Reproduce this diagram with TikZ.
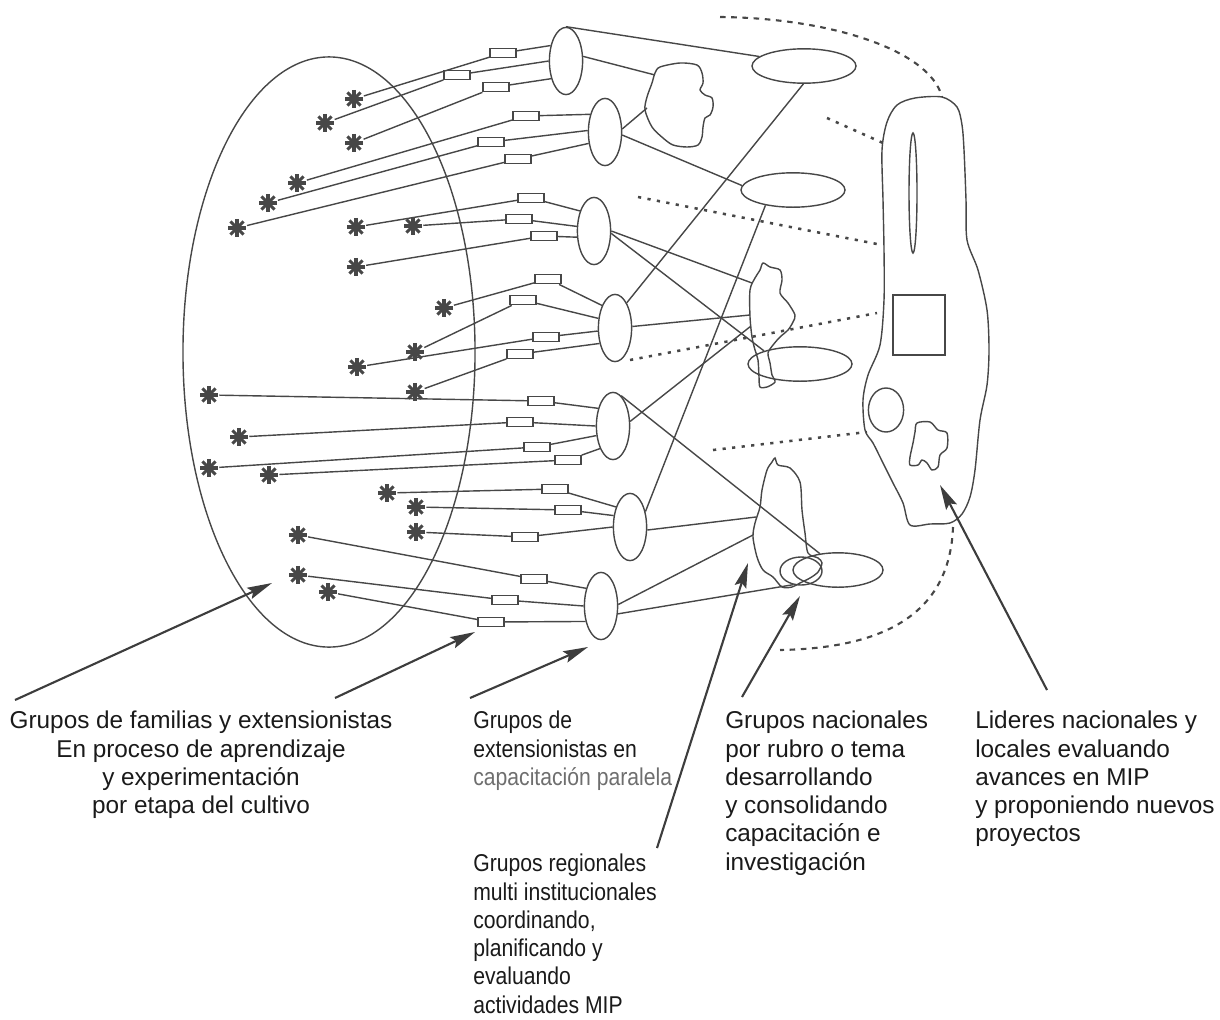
\documentclass[tikz,border=0pt]{standalone}
\usepackage{fontspec}
\setmainfont{Liberation Sans}
\newfontfamily\estrecha[FakeStretch=0.87]{Liberation Sans}
\usepackage{tikz}
\usetikzlibrary{arrows.meta,shapes.geometric}
\usepackage{xcolor}
\definecolor{ctrazo}{HTML}{474747}
\definecolor{cflecha}{HTML}{3D3D3D}
\definecolor{ctexto}{HTML}{1A1A1A}
\definecolor{cgris}{HTML}{6E6E6E}

\begin{document}
\begin{tikzpicture}[x=0.025cm, y=-0.025cm,
    every node/.style={font=\fontsize{17.3}{20.1}\selectfont, text=ctexto},
    grupo/.style={draw=ctrazo, ellipse, line width=1pt, inner sep=0pt,
      minimum width=0.83cm, minimum height=1.68cm},
    nacional/.style={draw=ctrazo, ellipse, line width=1pt, inner sep=0pt,
      minimum width=2.6cm, minimum height=0.86cm},
    caja/.style={draw=ctrazo, rectangle, line width=0.9pt, inner sep=0pt,
      minimum width=0.65cm, minimum height=0.24cm},
    asterisco/.style={circle, inner sep=0pt, minimum size=0.5cm,
      path picture={\foreach \a in {0,45,90,135}
        \draw[ctrazo, line width=2.2pt] (path picture bounding box.center)
          ++(\a:0.23cm) -- ++(\a:-0.46cm);}},
    enlace/.style={draw=ctrazo, line width=1pt},
    mancha/.style={draw=ctrazo, line width=1pt},
    punteado/.style={draw=ctrazo, line width=1.8pt, dash pattern=on 0.08cm off 0.16cm},
    flecha/.style={draw=cflecha, line width=1.5pt,
      -{Stealth[length=0.62cm, width=0.3cm, inset=0.1cm]}},
    rotulo/.style={align=left, anchor=north west, inner sep=0pt}]

  \useasboundingbox (0,0) rectangle (1220,1019);

  \node[draw=ctrazo, ellipse, line width=1pt, minimum width=7.3cm,
    minimum height=14.75cm] (familias) at (329,352) {};

  \foreach \i/\x/\y in {1/354/99, 2/325/123, 3/354/143, 4/297/183, 5/268/203,
      6/237/228, 7/356/227, 8/413/226, 9/356/267, 10/444/308, 11/415/352,
      12/357/367, 13/415/392, 14/209/395, 15/239/437, 16/209/468, 17/269/475,
      18/387/493, 19/416/507, 20/416/532, 21/298/535, 22/298/575, 23/328/592}
    \node[asterisco] (s\i) at (\x,\y) {};

  \foreach \i/\x/\y in {1/503/53, 2/457/75, 3/496/87, 4/526/116, 5/491/142,
      6/518/159, 7/531/198, 8/519/219, 9/544/236, 10/548/279, 11/523/300,
      12/546/337, 13/520/354, 14/541/401, 15/520/422, 16/537/447, 17/568/460,
      18/555/489, 19/568/510, 20/525/537, 21/534/579, 22/505/600, 23/491/622}
    \node[caja] (r\i) at (\x,\y) {};

  \foreach \i/\x/\y in {1/566/61, 2/605/132, 3/594/231, 4/615/328,
      5/613/426, 6/630/527, 7/601/606}
    \node[grupo] (g\i) at (\x,\y) {};

  \node[nacional] (n1) at (804,66) {};
  \node[nacional] (n2) at (793,190) {};
  \node[nacional] (n3) at (800,364) {};
  \node[nacional, minimum width=2.25cm] (n4) at (838,570) {};
  \node[nacional, minimum width=1.05cm, minimum height=0.7cm] (n5) at (801,571) {};

  \foreach \i/\g/\a in {1/1/135, 2/1/180, 3/1/230, 4/2/130, 5/2/175, 6/2/215,
      7/3/125, 8/3/165, 9/3/200, 10/4/120, 11/4/150, 12/4/190, 13/4/225,
      14/5/130, 15/5/180, 16/5/210, 17/5/240, 18/6/125, 19/6/145, 20/6/180,
      21/7/130, 22/7/180, 23/7/225}
    \draw[enlace] (s\i) -- (r\i) -- (g\g.\a);

  % manchas
  \draw[mancha] plot[smooth cycle, tension=0.5] coordinates {(660,67) (680,63)
    (697,65) (702,73) (703,83) (700,90) (705,95) (712,98) (713,107) (710,115)
    (705,118) (703,127) (702,137) (698,145) (687,147) (673,145) (663,138)
    (652,127) (645,110) (647,97) (652,83) (655,73)};
  \draw[mancha] plot[smooth cycle, tension=0.5] coordinates {(763,263) (770,267)
    (780,270) (782,280) (780,293) (788,303) (795,315) (793,322) (788,330)
    (780,337) (773,345) (768,353) (770,363) (772,375) (775,382) (767,387)
    (760,387) (759,377) (758,360) (755,350) (752,337) (750,317) (750,290)
    (755,278) (760,270)};
  \draw[mancha] plot[smooth cycle, tension=0.5] coordinates {(775,458) (778,465)
    (790,468) (800,482) (802,510) (805,533) (808,553) (818,558) (822,563)
    (818,572) (810,578) (800,583) (792,587) (782,587) (773,577) (763,570)
    (757,557) (753,537) (755,523) (760,507) (762,490) (767,470) (772,462)};
  \draw[mancha] plot[smooth cycle, tension=0.5] coordinates {(917,423) (930,422)
    (938,430) (947,433) (947,448) (940,455) (938,467) (932,470) (927,463)
    (922,460) (918,465) (910,465) (910,457) (913,443) (915,432)};
  \draw[mancha] plot[smooth cycle, tension=0.5] coordinates {(942,97) (957,107)
    (962,125) (964,150) (966,200) (967,240) (978,270) (987,310) (989,350)
    (987,385) (980,420) (975,470) (970,497) (962,514) (950,523) (930,524)
    (910,525) (903,503) (893,483) (883,463) (873,443) (865,430) (863,400)
    (868,375) (880,345) (884,300) (884,250) (883,200) (882,150) (887,122)
    (897,105) (915,98)};

  \node[draw=ctrazo, ellipse, line width=1pt, inner sep=0pt,
    minimum width=0.2cm, minimum height=3cm] (lider1) at (913,193) {};
  \node[draw=ctrazo, rectangle, line width=1pt, inner sep=0pt,
    minimum width=1.3cm, minimum height=1.5cm] (lider2) at (919,325) {};
  \node[draw=ctrazo, ellipse, line width=1pt, inner sep=0pt,
    minimum width=0.88cm, minimum height=1.1cm] (lider3) at (886,410) {};

  \coordinate (b1a) at (655,75);
  \coordinate (b1b) at (647,108);
  \coordinate (b2a) at (752,283);
  \coordinate (b2b) at (750,315);
  \coordinate (b2c) at (751,326);
  \coordinate (b3a) at (756,517);
  \coordinate (b3b) at (753,535);

  \draw[enlace] (g1.90) -- (n1.168);
  \draw[enlace] (g1.15) -- (b1a);
  \draw[enlace] (g2.10) -- (b1b);
  \draw[enlace] (g2.-10) -- (n2.175);
  \draw[enlace] (g3.0) -- (b2a);
  \draw[enlace] (g3.-8) -- (n3.160);
  \draw[enlace] (g4.65) -- (n1.268);
  \draw[enlace] (g4.5) -- (b2b);
  \draw[enlace] (g5.15) -- (b2c);
  \draw[enlace] (g5.75) -- (n4.138);
  \draw[enlace] (g6.45) -- (n2.209);
  \draw[enlace] (g6.-10) -- (b3a);
  \draw[enlace] (g7.5) -- (b3b);
  \draw[enlace] (g7.-25) -- (n5.240);

  \coordinate (d1a) at (827,118);  \coordinate (d1b) at (883,143);
  \coordinate (d2a) at (638,197);  \coordinate (d2b) at (882,245);
  \coordinate (d3a) at (630,360);  \coordinate (d3b) at (877,313);
  \coordinate (d4a) at (713,450);  \coordinate (d4b) at (867,432);
  \coordinate (arcoa) at (720,17); \coordinate (arcob) at (942,97);
  \coordinate (arcoc) at (953,527); \coordinate (arcod) at (780,650);
  \draw[punteado] (d1a) -- (d1b);
  \draw[punteado] (d2a) -- (d2b);
  \draw[punteado] (d3a) -- (d3b);
  \draw[punteado] (d4a) -- (d4b);
  \draw[punteado, line width=1.5pt, dash pattern=on 0.14cm off 0.14cm]
    (arcoa) .. controls (830,18) and (930,50) .. (arcob);
  \draw[punteado, line width=1.5pt, dash pattern=on 0.14cm off 0.14cm]
    (arcoc) .. controls (950,610) and (890,648) .. (arcod);

  \node[anchor=north, align=center, inner sep=0pt] (tfam) at (201,711)
    {Grupos de familias y extensionistas\\En proceso de aprendizaje\\
     y experimentación\\por etapa del cultivo};
  \node[rotulo, font=\estrecha\fontsize{17.3}{20.1}\selectfont] (text) at (473,711)
    {Grupos de\\extensionistas en\\\textcolor{cgris}{capacitación paralela}};
  \node[rotulo, font=\estrecha\fontsize{17.3}{20.1}\selectfont] (treg) at (473,854)
    {Grupos regionales\\multi institucionales\\coordinando,\\planificando y\\
     evaluando\\actividades MIP};
  \node[rotulo] (tnac) at (725,711)
    {Grupos nacionales\\por rubro o tema\\desarrollando\\y consolidando\\
     capacitación e\\investigación};
  \node[rotulo] (tlid) at (975,711)
    {Lideres nacionales y\\locales evaluando\\avances en MIP\\
     y proponiendo nuevos\\proyectos};

  \coordinate (f1) at (15,700);   \coordinate (f1p) at (272,583);
  \coordinate (f2) at (335,698);  \coordinate (f2p) at (475,632);
  \coordinate (f3) at (470,698);  \coordinate (f3p) at (588,647);
  \coordinate (f4) at (657,848);  \coordinate (f4p) at (748,563);
  \coordinate (f5) at (742,697);  \coordinate (f5p) at (800,596);
  \coordinate (f6) at (1047,690); \coordinate (f6p) at (940,485);
  \foreach \i in {1,...,6}
    \draw[flecha] (f\i) -- (f\i p);
\end{tikzpicture}
\end{document}
